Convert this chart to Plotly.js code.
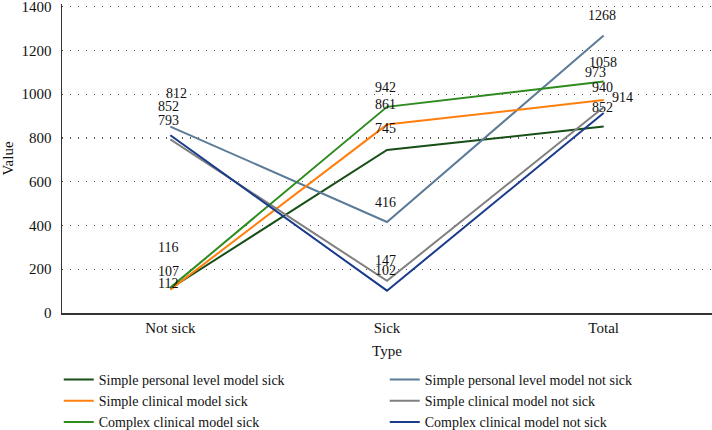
<!DOCTYPE html>
<html>
<head>
<meta charset="utf-8">
<script src="https://cdn.plot.ly/plotly-3.0.1.min.js"></script>
<style>html,body{margin:0;padding:0;background:#fff;}#chart{width:712px;height:430px;}</style>
</head>
<body>
<div id="chart"></div>
<script>
const categories = ["Not sick", "Sick", "Total"];
const seriesNames = [
  "Simple personal level model sick",
  "Simple personal level model not sick",
  "Simple clinical model sick",
  "Simple clinical model not sick",
  "Complex clinical model sick",
  "Complex clinical model not sick"
];
const simplePersonalSick = [112, 745, 852];
const simplePersonalNotSick = [852, 416, 1268];
const simpleClinicalSick = [107, 861, 973];
const simpleClinicalNotSick = [793, 147, 940];
const complexClinicalSick = [116, 942, 1058];
const complexClinicalNotSick = [812, 102, 914];
const yTicks = [0, 200, 400, 600, 800, 1000, 1200, 1400];

const seriesValues = [simplePersonalSick, simplePersonalNotSick, simpleClinicalSick,
                      simpleClinicalNotSick, complexClinicalSick, complexClinicalNotSick];
const colors = ["#174f17", "#5b7b98", "#ff7f0e", "#808080", "#2e8b1e", "#1a3a8c"];
// label offsets [xshift, yshift] per series per category (styling only)
const labelShifts = [
  [[-2, 5], [-2, 21], [-1, 19]],
  [[-2, 20], [-2, 19], [-2, 20]],
  [[-2, 18], [-2, 20], [-8, 28]],
  [[-2, 19], [-2, 20], [-1, 20]],
  [[-2, 40], [-2, 19], [-1, 19]],
  [[6, 42], [-2, 20], [19, 15]]
];

const font = "Liberation Serif, Times New Roman, serif";
const traces = seriesNames.map((n, i) => ({
  type: "scatter", mode: "lines", name: n,
  x: categories, y: seriesValues[i],
  line: {color: colors[i], width: 2},
  hoverinfo: "skip"
}));
const annotations = [];
seriesValues.forEach((vals, i) => {
  vals.forEach((v, j) => {
    annotations.push({
      x: categories[j], y: v, xref: "x", yref: "y",
      text: String(v), showarrow: false,
      xshift: labelShifts[i][j][0], yshift: labelShifts[i][j][1],
      font: {family: font, size: 14, color: "#111"}
    });
  });
});

const layout = {
  width: 712, height: 430,
  margin: {l: 62, r: 0, t: 4, b: 117, autoexpand: false},
  paper_bgcolor: "#fff", plot_bgcolor: "#fff",
  font: {family: font, size: 15, color: "#111"},
  showlegend: true,
  legend: {
    orientation: "h", x: -0.005, xanchor: "left", y: -0.165, yanchor: "top",
    entrywidth: 281, entrywidthmode: "pixels",
    font: {family: font, size: 14, color: "#111"},
    tracegroupgap: 0, itemwidth: 30
  },
  xaxis: {
    type: "category", range: [-0.5, 2.5], automargin: false,
    showline: true, linecolor: "#333", linewidth: 1.5,
    showgrid: false, ticks: "", zeroline: false,
    tickfont: {family: font, size: 15, color: "#111"},
    title: {text: "Type", font: {family: font, size: 15, color: "#111"}, standoff: 11}
  },
  yaxis: {
    range: [0, 1412], tickvals: yTicks, ticktext: yTicks.map(String), automargin: false,
    ticklabeloverflow: "allow",
    showline: true, linecolor: "#333", linewidth: 1.5,
    showgrid: true, gridcolor: "#555", gridwidth: 1.2, griddash: "1px,7px",
    zeroline: false, ticks: "", ticklabelstandoff: 6,
    tickfont: {family: font, size: 15, color: "#111"},
    title: {text: "Value", font: {family: font, size: 15, color: "#111"}, standoff: 10}
  },
  annotations: annotations
};
Plotly.newPlot("chart", traces, layout, {displayModeBar: false, staticPlot: true});
</script>
</body>
</html>
